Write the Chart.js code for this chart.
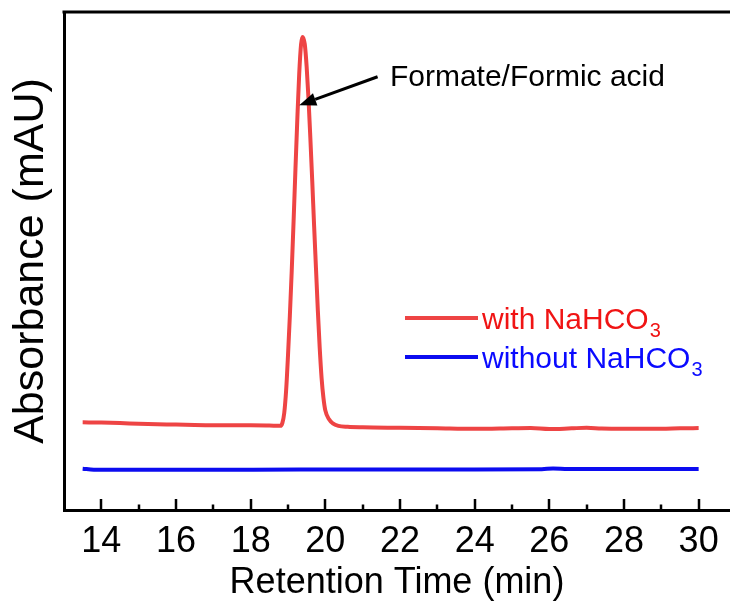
<!DOCTYPE html>
<html>
<head>
<meta charset="utf-8">
<title>Retention time chromatogram</title>
<script src="https://cdn.jsdelivr.net/npm/chart.js@4.4.1/dist/chart.umd.min.js"></script>
<style>
  html, body { margin: 0; padding: 0; background: #ffffff; }
  canvas { display: block; }
</style>
</head>
<body>
<canvas id="chart" width="730" height="611"></canvas>
<script>
// Chromatogram with NaHCO3 (retention time in min, absorbance in mAU, arbitrary scale)
const redTime = [13.5, 14.0, 14.5, 15.0, 15.5, 16.0, 16.5, 17.0, 17.5, 18.0, 18.5, 18.8,
  18.85, 18.9, 18.95, 19.0, 19.05, 19.1, 19.15, 19.2, 19.25, 19.3, 19.35, 19.39,
  19.45, 19.5, 19.55, 19.6, 19.65, 19.7, 19.75, 19.8, 19.85, 19.9, 19.95, 20.0,
  20.1, 20.2, 20.35, 20.6, 21.0, 22.0, 23.0, 24.0, 25.0, 25.5, 26.0, 26.6, 27.0,
  27.4, 28.0, 29.0, 29.5, 30.0];
const redAbs = [17.6, 17.55, 17.45, 17.3, 17.2, 17.15, 17.05, 17.0, 17.0, 17.0, 16.95, 16.9,
  17.5, 19.5, 24.0, 31.0, 39.0, 48.0, 58.0, 68.5, 78.5, 87.5, 93.5, 95.0,
  93.5, 89.0, 82.5, 74.5, 66.0, 57.0, 48.5, 40.0, 32.5, 26.5, 22.5, 20.0,
  18.2, 17.4, 16.9, 16.7, 16.6, 16.5, 16.4, 16.3, 16.4, 16.45, 16.25, 16.4, 16.5,
  16.35, 16.3, 16.3, 16.4, 16.45];

// Chromatogram without NaHCO3
const blueTime = [13.5, 13.8, 15.0, 16.0, 18.0, 20.0, 22.0, 24.0, 25.8, 26.1, 26.5, 28.0, 30.0];
const blueAbs  = [8.3, 8.1, 8.1, 8.1, 8.1, 8.12, 8.13, 8.15, 8.2, 8.35, 8.22, 8.22, 8.22];

// Axis settings
const xMin = 13, xMax = 30.84;
const yMin = 0, yMax = 100;
const xLabelTicks = [14, 16, 18, 20, 22, 24, 26, 28, 30];
const xMinorTicks = [15, 17, 19, 21, 23, 25, 27, 29];

const seriesNames = ['with NaHCO', 'without NaHCO'];
const seriesSub = '3';
const peakLabel = 'Formate/Formic acid';

const RED = '#ee4444';
const BLUE = '#0c0cf0';
const FONT = '"Liberation Sans", Arial, Helvetica, sans-serif';

const toPoints = (xs, ys) => xs.map((x, i) => ({ x: x, y: ys[i] }));

// Top frame line plus inward tick marks on the bottom axis
const frameTicks = {
  id: 'frameTicks',
  afterDraw(chart) {
    const { ctx, chartArea } = chart;
    const xs = chart.scales.x;
    ctx.save();
    ctx.strokeStyle = '#000';
    ctx.lineWidth = 3;
    ctx.beginPath();
    ctx.moveTo(chartArea.left - 1.5, chartArea.top);
    ctx.lineTo(chart.width, chartArea.top);
    ctx.stroke();
    ctx.lineWidth = 2.5;
    ctx.beginPath();
    xLabelTicks.forEach(v => {
      const px = Math.round(xs.getPixelForValue(v));
      ctx.moveTo(px, chartArea.bottom);
      ctx.lineTo(px, chartArea.bottom - 11);
    });
    xMinorTicks.forEach(v => {
      const px = Math.round(xs.getPixelForValue(v));
      ctx.moveTo(px, chartArea.bottom);
      ctx.lineTo(px, chartArea.bottom - 5.5);
    });
    ctx.stroke();
    ctx.restore();
  }
};

// Peak label with arrow, and the two-line key with subscripts
const notes = {
  id: 'notes',
  afterDraw(chart) {
    const { ctx } = chart;
    const xs = chart.scales.x, ys = chart.scales.y;
    ctx.save();

    // arrow pointing to the peak flank
    const tipX = xs.getPixelForValue(19.3), tipY = ys.getPixelForValue(81.3);
    const tailX = xs.getPixelForValue(21.4), tailY = ys.getPixelForValue(87.0);
    const ang = Math.atan2(tipY - tailY, tipX - tailX);
    const headLen = 17, headW = 6.5;
    const baseX = tipX - headLen * Math.cos(ang), baseY = tipY - headLen * Math.sin(ang);
    ctx.strokeStyle = '#000';
    ctx.fillStyle = '#000';
    ctx.lineWidth = 3;
    ctx.beginPath();
    ctx.moveTo(tailX, tailY);
    ctx.lineTo(baseX, baseY);
    ctx.stroke();
    ctx.beginPath();
    ctx.moveTo(tipX, tipY);
    ctx.lineTo(baseX + headW * Math.sin(ang), baseY - headW * Math.cos(ang));
    ctx.lineTo(baseX - headW * Math.sin(ang), baseY + headW * Math.cos(ang));
    ctx.closePath();
    ctx.fill();

    ctx.font = '30px ' + FONT;
    ctx.textBaseline = 'middle';
    ctx.textAlign = 'left';
    ctx.fillText(peakLabel, xs.getPixelForValue(21.73), ys.getPixelForValue(86.9));

    // key
    const rows = [
      { name: seriesNames[0], line: RED, text: '#f01414', y: 318 },
      { name: seriesNames[1], line: BLUE, text: '#0a0aff', y: 357 }
    ];
    rows.forEach(r => {
      ctx.strokeStyle = r.line;
      ctx.lineWidth = 4;
      ctx.beginPath();
      ctx.moveTo(405, r.y);
      ctx.lineTo(478, r.y);
      ctx.stroke();
      ctx.fillStyle = r.text;
      ctx.textBaseline = 'alphabetic';
      ctx.font = '30px ' + FONT;
      ctx.fillText(r.name, 482, r.y + 11);
      const w = ctx.measureText(r.name).width;
      ctx.font = '20px ' + FONT;
      ctx.fillText(seriesSub, 482 + w + 1, r.y + 19);
    });
    ctx.restore();
  }
};

new Chart(document.getElementById('chart'), {
  type: 'line',
  data: {
    datasets: [
      {
        label: seriesNames[0] + seriesSub,
        data: toPoints(redTime, redAbs),
        borderColor: RED,
        borderWidth: 4,
        pointRadius: 0,
        cubicInterpolationMode: 'monotone',
        fill: false
      },
      {
        label: seriesNames[1] + seriesSub,
        data: toPoints(blueTime, blueAbs),
        borderColor: BLUE,
        borderWidth: 4,
        pointRadius: 0,
        cubicInterpolationMode: 'monotone',
        fill: false
      }
    ]
  },
  options: {
    responsive: false,
    animation: false,
    devicePixelRatio: 1,
    layout: { padding: { top: 12, right: 0, bottom: 0, left: 0 } },
    plugins: {
      legend: { display: false },
      tooltip: { enabled: false }
    },
    scales: {
      x: {
        type: 'linear',
        min: xMin,
        max: xMax,
        grid: { display: false, drawTicks: false },
        border: { display: true, color: '#000', width: 3 },
        afterBuildTicks(scale) {
          scale.ticks = xLabelTicks.map(v => ({ value: v }));
        },
        ticks: {
          autoSkip: false,
          maxRotation: 0,
          padding: 10,
          color: '#000',
          font: { family: FONT, size: 36 },
          callback: v => String(v)
        },
        title: {
          display: true,
          text: 'Retention Time (min)',
          color: '#000',
          font: { family: FONT, size: 36 },
          padding: { top: 0, bottom: 6 }
        },
        afterFit(scale) {
          scale.height = 101;
          scale.paddingRight = 0;
        }
      },
      y: {
        type: 'linear',
        min: yMin,
        max: yMax,
        grid: { display: false, drawTicks: false },
        border: { display: true, color: '#000', width: 3 },
        ticks: { display: false },
        title: {
          display: true,
          text: 'Absorbance (mAU)',
          color: '#000',
          font: { family: FONT, size: 43 },
          padding: { top: 5, bottom: 0 }
        },
        afterFit(scale) { scale.width = 64; }
      }
    }
  },
  plugins: [frameTicks, notes]
});
</script>
</body>
</html>
